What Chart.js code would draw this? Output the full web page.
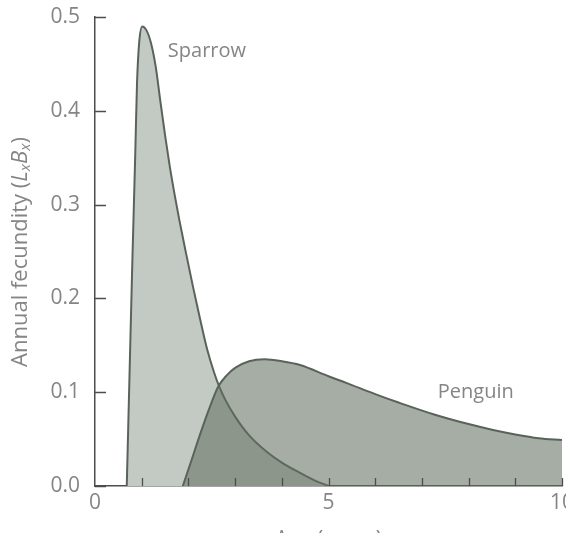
<!DOCTYPE html>
<html>
<head>
<meta charset="utf-8">
<script src="https://cdn.jsdelivr.net/npm/chart.js@4"></script>
<style>
  html, body { margin: 0; padding: 0; background: #fff; }
  #wrap { width: 566px; height: 533px; }
</style>
</head>
<body>
<div id="wrap"><canvas id="fecundityChart" width="566" height="533"></canvas></div>
<script>
// annual fecundity (LxBx) by age in years
const sparrowAge = [0.68, 0.74, 0.80, 0.86, 0.90, 0.95, 1.01, 1.10, 1.20, 1.30, 1.40, 1.50, 1.60, 1.70, 1.80, 1.95, 2.10, 2.25, 2.40, 2.55, 2.66, 2.80, 3.00, 3.30, 3.69, 4.00, 4.39, 4.70, 5.00];
const sparrowFecundity = [0, 0.12, 0.24, 0.35, 0.43, 0.475, 0.49, 0.486, 0.472, 0.447, 0.41, 0.374, 0.341, 0.312, 0.285, 0.248, 0.212, 0.178, 0.146, 0.121, 0.106, 0.091, 0.074, 0.054, 0.036, 0.025, 0.014, 0.006, 0];

const penguinAge = [1.88, 2.05, 2.25, 2.45, 2.64, 2.82, 3.00, 3.30, 3.63, 4.00, 4.39, 5.00, 5.38, 6.00, 6.50, 7.28, 8.00, 8.50, 9.00, 9.50, 10.0];
const penguinFecundity = [0, 0.025, 0.055, 0.083, 0.106, 0.118, 0.126, 0.133, 0.135, 0.133, 0.129, 0.117, 0.110, 0.098, 0.089, 0.076, 0.066, 0.060, 0.055, 0.051, 0.049];

const seriesNames = ["Sparrow", "Penguin"];
const xTickLabels = [0, 5, 10];
const xMinorTicks = [1, 2, 3, 4, 5, 6, 7, 8, 9, 10];
const yTickLabels = [0, 0.1, 0.2, 0.3, 0.4, 0.5];

const textColor = "#858585";
const axisColor = "#4d4d4d";
const lineColor = "#59635a";
const fontFamily = "'Open Sans', sans-serif";

function toPoints(xs, ys) {
  return xs.map((x, i) => ({ x: x, y: ys[i] }));
}

// inward tick marks, curve names and the axis titles
const decorations = {
  id: "decorations",
  afterDatasetsDraw(chart) {
    const { ctx, scales: { x, y } } = chart;
    ctx.save();
    ctx.strokeStyle = axisColor;
    ctx.lineWidth = 1.3;
    ctx.beginPath();
    yTickLabels.forEach((v) => {
      const py = Math.round(y.getPixelForValue(v)) + 0.5;
      ctx.moveTo(x.left, py);
      ctx.lineTo(x.left + 11, py);
    });
    xMinorTicks.forEach((v) => {
      const px = Math.round(x.getPixelForValue(v)) + 0.5;
      ctx.moveTo(px, y.bottom);
      ctx.lineTo(px, y.bottom - 8);
    });
    ctx.stroke();

    ctx.fillStyle = textColor;
    ctx.font = "20px " + fontFamily;
    ctx.textAlign = "left";
    ctx.textBaseline = "middle";
    ctx.fillText(seriesNames[0], x.getPixelForValue(1.56), y.getPixelForValue(0.463));
    ctx.fillText(seriesNames[1], x.getPixelForValue(7.34), y.getPixelForValue(0.1));

    // x title sits mostly below the canvas edge
    ctx.textAlign = "center";
    ctx.textBaseline = "top";
    ctx.font = "21px " + fontFamily;
    ctx.fillText("Age (years)", x.getPixelForValue(5), 530);

    // y title with italic L and B and subscript x
    const parts = [
      { t: "Annual fecundity (", f: "22px " + fontFamily, dy: 0 },
      { t: "L", f: "italic 22px " + fontFamily, dy: 0 },
      { t: "x", f: "italic 15px " + fontFamily, dy: 5 },
      { t: "B", f: "italic 22px " + fontFamily, dy: 0 },
      { t: "x", f: "italic 15px " + fontFamily, dy: 5 },
      { t: ")", f: "22px " + fontFamily, dy: 0 },
    ];
    let total = 0;
    parts.forEach((p) => {
      ctx.font = p.f;
      p.w = ctx.measureText(p.t).width;
      total += p.w;
    });
    ctx.translate(21, 252);
    ctx.rotate(-Math.PI / 2);
    ctx.textAlign = "left";
    ctx.textBaseline = "middle";
    let cx = -total / 2;
    parts.forEach((p) => {
      ctx.font = p.f;
      ctx.fillText(p.t, cx, p.dy);
      cx += p.w;
    });
    ctx.restore();
  },
};

const ctx = document.getElementById("fecundityChart").getContext("2d");
const fecundityChart = new Chart(ctx, {
  type: "line",
  data: {
    datasets: [
      {
        label: seriesNames[1],
        data: toPoints(penguinAge, penguinFecundity),
        fill: "origin",
        backgroundColor: "rgba(99, 111, 95, 0.57)",
        borderColor: lineColor,
        borderWidth: 2,
        pointRadius: 0,
        cubicInterpolationMode: "monotone",
        order: 0,
      },
      {
        label: seriesNames[0],
        data: toPoints(sparrowAge, sparrowFecundity),
        fill: "origin",
        backgroundColor: "#c3cac3",
        borderColor: lineColor,
        borderWidth: 2,
        pointRadius: 0,
        cubicInterpolationMode: "monotone",
        order: 1,
      },
    ],
  },
  options: {
    responsive: false,
    animation: false,
    layout: { padding: { top: 17, right: 4, left: 0, bottom: 0 } },
    plugins: {
      legend: { display: false },
      tooltip: { enabled: false },
    },
    scales: {
      x: {
        type: "linear",
        min: 0,
        max: 10,
        afterBuildTicks: (scale) => {
          scale.ticks = xTickLabels.map((v) => ({ value: v }));
        },
        afterFit: (scale) => {
          scale.height = 47;
          scale.paddingLeft = 0;
          scale.paddingRight = 0;
        },
        ticks: {
          color: textColor,
          font: { family: fontFamily, size: 21 },
          padding: 4,
          maxRotation: 0,
          autoSkip: false,
        },
        grid: { display: false, drawTicks: false },
        border: { color: axisColor, width: 1.5 },
      },
      y: {
        min: 0,
        max: 0.5,
        afterBuildTicks: (scale) => {
          scale.ticks = yTickLabels.map((v) => ({ value: v }));
        },
        afterFit: (scale) => {
          scale.width = 95;
          scale.paddingTop = 0;
          scale.paddingBottom = 0;
        },
        ticks: {
          color: textColor,
          font: { family: fontFamily, size: 21 },
          padding: 15,
          callback: (v) => v.toFixed(1),
        },
        grid: { display: false, drawTicks: false },
        border: { color: axisColor, width: 1.5 },
      },
    },
  },
  plugins: [decorations],
});
</script>
</body>
</html>
